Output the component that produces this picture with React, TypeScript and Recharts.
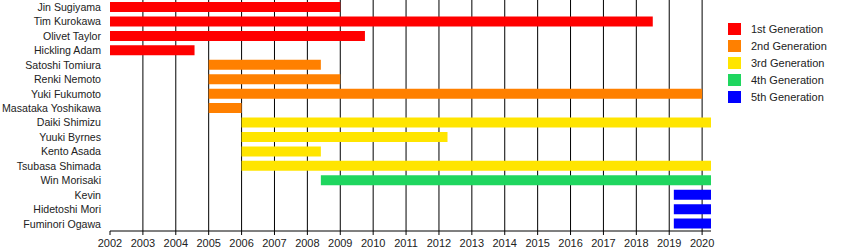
import { BarChart, Bar, XAxis, YAxis, CartesianGrid, Legend, Cell } from 'recharts';

// メンバー在籍期間（年、小数は年内の位置）
const members = [
  'Jin Sugiyama', 'Tim Kurokawa', 'Olivet Taylor', 'Hickling Adam',
  'Satoshi Tomiura', 'Renki Nemoto', 'Yuki Fukumoto', 'Masataka Yoshikawa',
  'Daiki Shimizu', 'Yuuki Byrnes', 'Kento Asada', 'Tsubasa Shimada',
  'Win Morisaki', 'Kevin', 'Hidetoshi Mori', 'Fuminori Ogawa',
];
const startYears = [
  2002, 2002, 2002, 2002,
  2005, 2005, 2005, 2005,
  2006, 2006, 2006, 2006,
  2008.41, 2019.14, 2019.14, 2019.14,
];
const endYears = [
  2009.0, 2018.5, 2009.75, 2004.57,
  2008.41, 2009.0, 2020.0, 2006.0,
  2020.27, 2012.26, 2008.41, 2020.27,
  2020.27, 2020.27, 2020.27, 2020.27,
];
const generationOf = [1, 1, 1, 1, 2, 2, 2, 2, 3, 3, 3, 3, 4, 5, 5, 5];

const generationNames = ['1st Generation', '2nd Generation', '3rd Generation', '4th Generation', '5th Generation'];
const generationColors = ['#ff0000', '#ff8000', '#ffe500', '#1fd65f', '#0000ff'];

const yearTicks = [
  2002, 2003, 2004, 2005, 2006, 2007, 2008, 2009, 2010, 2011,
  2012, 2013, 2014, 2015, 2016, 2017, 2018, 2019, 2020,
];
const gridYears = yearTicks.slice(1);
const START_OF_AXIS = 2002;
const END_OF_AXIS = 2020.27;

const chartData = members.map((name, i) => ({
  name,
  range: [startYears[i], endYears[i]],
  gen: generationOf[i],
}));

const LegendBox = () => (
  <div style={{ fontSize: 11, color: '#222' }}>
    {generationNames.map((label, i) => (
      <div key={label} style={{ display: 'flex', alignItems: 'center', height: 17 }}>
        <span style={{ display: 'inline-block', width: 13, height: 12, background: generationColors[i], marginRight: 10 }} />
        {label}
      </div>
    ))}
  </div>
);

// 名前ラベルは折り返さない
const NameTick = (props: any) => {
  const { x, y, payload } = props;
  return (
    <text x={x - 1} y={y} dy="0.355em" textAnchor="end" fontSize={10.6} fill="#222">
      {payload.value}
    </text>
  );
};

// 2002年の線は描かない（グリッドは2003年以降）
const gridX = ({ xAxis, offset }: any) => {
  if (xAxis && typeof xAxis.scale === 'function') {
    return gridYears.map((yr) => xAxis.scale(yr));
  }
  return gridYears.map(
    (yr) => offset.left + ((yr - START_OF_AXIS) / (END_OF_AXIS - START_OF_AXIS)) * offset.width
  );
};

export default function App() {
  return (
    <div style={{ position: 'absolute', left: 0, top: 0, background: '#fff', fontFamily: '"Liberation Sans", Arial, sans-serif' }}>
      <BarChart
        width={850}
        height={250}
        data={chartData}
        layout="vertical"
        margin={{ top: 0, right: 29, left: 0, bottom: 0 }}
        barCategoryGap={0}
      >
        <CartesianGrid horizontal={false} vertical stroke="#000" strokeWidth={1} verticalCoordinatesGenerator={gridX} />
        <XAxis
          type="number"
          domain={[START_OF_AXIS, END_OF_AXIS]}
          ticks={yearTicks}
          interval={0}
          allowDataOverflow
          height={19}
          tickSize={4}
          tickMargin={4}
          tick={{ fontSize: 11, fill: '#222' }}
          stroke="#000"
        />
        <YAxis
          type="category"
          dataKey="name"
          width={110}
          interval={0}
          axisLine={false}
          tickLine={false}
          tick={<NameTick />}
        />
        <Legend
          verticalAlign="top"
          align="right"
          layout="vertical"
          content={<LegendBox />}
          wrapperStyle={{ left: 728, top: 20, width: 110 }}
        />
        <Bar dataKey="range" barSize={10} isAnimationActive={false}>
          {chartData.map((entry, index) => (
            <Cell key={`cell-${index}`} fill={generationColors[entry.gen - 1]} />
          ))}
        </Bar>
      </BarChart>
    </div>
  );
}
